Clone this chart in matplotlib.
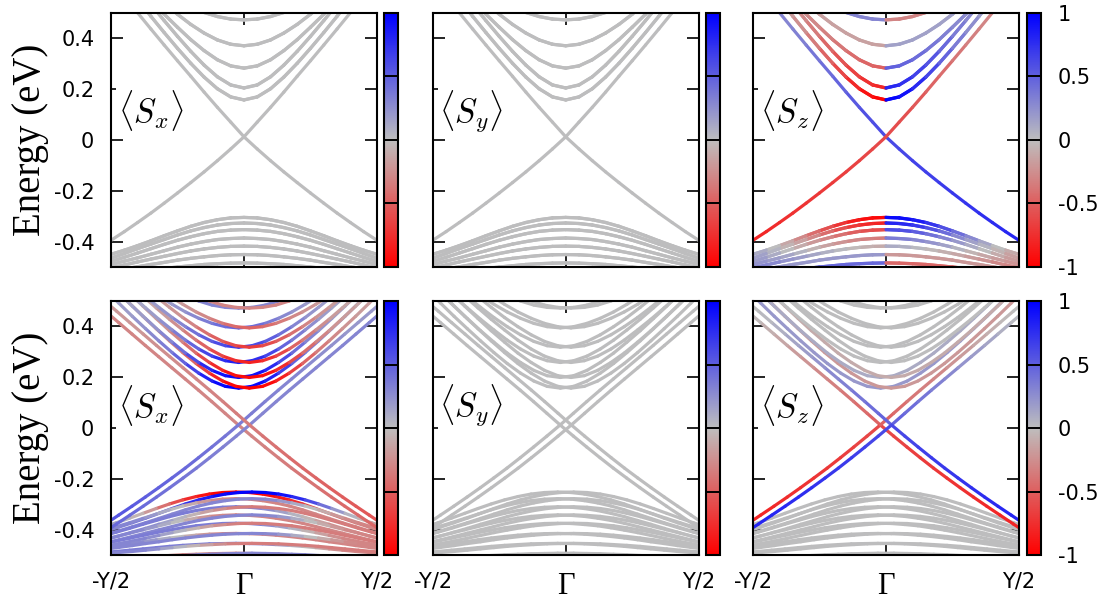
import numpy as np
import matplotlib
matplotlib.use('Agg')
import matplotlib.pyplot as plt
from matplotlib.collections import LineCollection
from matplotlib.colors import LinearSegmentedColormap, Normalize
from matplotlib.cm import ScalarMappable

plt.rcParams['mathtext.fontset'] = 'cm'
plt.rcParams['font.family'] = 'DejaVu Sans'

# k measured from Gamma outwards (Y/2 = 0.5); each band is given on this half grid
k_half = np.array([0, .05, .1, .15, .2, .25, .3, .35, .4, .45, .5, .55])

# ---- upper row (no splitting) : energies in eV ----
top_dirac_up = [.012, .07, .128, .188, .25, .311, .373, .436, .50, .565, .63, .695]
top_dirac_dn = [.012, -.036, -.082, -.126, -.168, -.209, -.249, -.288, -.325, -.361, -.395, -.428]
top_cond = [
    [.157, .169, .201, .247, .301, .360, .422, .486, .552, .618, .685, .753],
    [.204, .216, .248, .294, .348, .407, .469, .533, .599, .665, .732, .80],
    [.282, .291, .315, .351, .394, .443, .494, .547, .602, .658, .714, .772],
    [.370, .376, .393, .420, .454, .494, .539, .586, .636, .688, .741, .795],
    [.472, .475, .485, .501, .524, .553, .589, .63, .68, .73, .78, .83],
]
top_val = [
    [-.305, -.307, -.314, -.325, -.34, -.358, -.377, -.397, -.416, -.434, -.45, -.465],
    [-.327, -.329, -.335, -.345, -.358, -.374, -.392, -.41, -.428, -.447, -.465, -.482],
    [-.353, -.355, -.36, -.369, -.381, -.395, -.411, -.428, -.445, -.462, -.478, -.494],
    [-.386, -.388, -.392, -.4, -.41, -.422, -.436, -.45, -.464, -.477, -.49, -.503],
    [-.418, -.419, -.423, -.429, -.437, -.447, -.458, -.469, -.48, -.492, -.503, -.514],
    [-.451, -.452, -.455, -.46, -.466, -.473, -.482, -.49, -.499, -.508, -.516, -.525],
    [-.484, -.485, -.487, -.49, -.495, -.5, -.506, -.512, -.518, -.524, -.53, -.536],
]
# <Sz> of the falling Dirac line: upper branch (k<0) and lower branch (k>0)
top_dirac_sz_up = [.6, .6, .55, .5, .45, .4, .35, .3, .3, .25, .25, .25]
top_dirac_sz_dn = [.6, .62, .64, .66, .68, .7, .72, .74, .76, .78, .8, .8]
# <Sz> on the k>0 side (k<0 side has opposite sign)
top_cond_sz = [
    [1, .95, .85, .7, .55, .4, .3, .2, .15, .1, .1, .1],
    [.8, .78, .7, .6, .5, .4, .3, .25, .2, .15, .1, .1],
    [.5, .48, .45, .4, .35, .3, .25, .2, .15, .1, .1, .1],
    .15,
    -.3,
]
top_val_sz = [
    [.95, .95, .9, .8, .65, .5, .35, .2, .05, -.05, -.15, -.2],
    [.8, .8, .75, .65, .5, .35, .2, .1, 0, -.1, -.2, -.25],
    [.6, .6, .55, .45, .35, .25, .15, .05, -.05, -.15, -.2, -.25],
    [.35, .35, .3, .25, .2, .1, 0, -.1, -.15, -.2, -.25, -.3],
    [.1, .1, .05, 0, -.05, -.1, -.15, -.2, -.25, -.3, -.3, -.3],
    -.2,
    -.45,
]

# ---- lower row (bands split into pairs shifted by +-dk) ----
bot_dirac_up = [.012, .058, .104, .149, .193, .237, .281, .325, .37, .415, .46, .505]
bot_dirac_dn = [.012, -.032, -.075, -.117, -.158, -.197, -.235, -.272, -.308, -.343, -.378, -.412]
bot_cond = [
    [.157, .164, .185, .216, .254, .297, .343, .391, .440, .491, .542, .594],
    [.199, .206, .227, .258, .295, .338, .383, .431, .480, .530, .581, .633],
    [.258, .265, .283, .311, .346, .386, .428, .473, .519, .566, .614, .663],
    [.318, .324, .341, .367, .399, .435, .475, .517, .560, .605, .65, .696],
    [.394, .399, .412, .432, .457, .487, .52, .555, .591, .629, .667, .706],
    [.472, .475, .484, .50, .522, .55, .584, .624, .67, .72, .77, .82],
]
bot_val = [
    [-.252, -.254, -.26, -.27, -.283, -.299, -.317, -.336, -.355, -.373, -.39, -.406],
    [-.278, -.28, -.286, -.295, -.307, -.322, -.339, -.356, -.373, -.389, -.405, -.42],
    [-.31, -.312, -.317, -.325, -.336, -.349, -.364, -.379, -.395, -.41, -.425, -.439],
    [-.342, -.344, -.348, -.355, -.364, -.375, -.388, -.401, -.414, -.427, -.44, -.452],
    [-.375, -.376, -.38, -.385, -.393, -.402, -.412, -.423, -.434, -.445, -.455, -.465],
    [-.415, -.416, -.418, -.422, -.427, -.433, -.44, -.448, -.455, -.463, -.47, -.477],
    [-.454, -.455, -.456, -.459, -.462, -.466, -.471, -.476, -.481, -.486, -.49, -.495],
    [-.493, -.494, -.495, -.497, -.499, -.502, -.505, -.509, -.512, -.516, -.52, -.524],
]
bot_dirac_shift = 0.021
bot_cond_shift = 0.02
bot_val_shift = 0.03

# spin of the branch shifted to -dk (left side values, right side values)
bot_fall_sx = (-.3, [-.3, -.3, -.32, -.34, -.36, -.38, -.4, -.42, -.44, -.45, -.45, -.45])
bot_rise_sx = ([.35, .37, .4, .42, .44, .46, .48, .5, .52, .55, .55, .55],
               [.35, .35, .33, .3, .3, .28, .26, .25, .22, .2, .2, .2])
bot_fall_sz = ([-.5, -.45, -.4, -.35, -.3, -.25, -.2, -.15, -.1, -.05, 0, 0],
               [-.6, -.62, -.65, -.68, -.7, -.72, -.74, -.76, -.78, -.8, -.8, -.8])
bot_rise_sz = (bot_fall_sz[1], bot_fall_sz[0])
bot_cond_sx = [
    [1, 1, .9, .75, .55, .4, .3, .25, .2, .15, .15, .15],
    [.95, .95, .85, .7, .5, .35, .25, .2, .15, .1, .1, .1],
    [.85, .8, .7, .55, .4, .3, .2, .15, .1, .1, .1, .1],
    [.7, .65, .55, .45, .35, .25, .2, .15, .1, .1, .1, .1],
    [.5, .45, .4, .3, .25, .2, .15, .1, .1, .1, .1, .1],
    .3,
]
bot_cond_sz = [.2, .1, 0, 0, 0, 0]
bot_val_sx_left = [
    [-1, -1, -.95, -.85, -.7, -.5, -.3, -.1, 0, .1, .2, .25],
    [-.3, -.3, -.25, -.15, -.05, .05, .15, .25, .3, .3, .3, .3],
    .35,
    [-.3, -.3, -.25, -.15, -.05, .05, .15, .25, .3, .3, .3, .3],
    .35,
    [-.3, -.3, -.25, -.15, -.05, .05, .15, .25, .3, .3, .3, .3],
    .35,
    -.3,
]
bot_val_sx_right = [
    [-1, -1, -.95, -.9, -.8, -.7, -.6, -.5, -.4, -.35, -.3, -.3],
    -.3,
    [.35, .35, .3, .2, .1, 0, -.1, -.2, -.3, -.3, -.3, -.3],
    -.3,
    [.35, .35, .3, .2, .1, 0, -.1, -.2, -.3, -.3, -.3, -.3],
    -.3,
    [.35, .35, .3, .2, .1, 0, -.1, -.2, -.3, -.3, -.3, -.3],
    -.3,
]

labels = [r'$\langle S_x\rangle$', r'$\langle S_y\rangle$', r'$\langle S_z\rangle$']

cmap = LinearSegmentedColormap.from_list('spin', ['#ff0000', '#bebebe', '#0000ff'])
norm = Normalize(-1, 1)


def arr(v):
    return np.broadcast_to(np.asarray(v, float), k_half.shape)


def band(ax, eL, eR, sL, sR, dk):
    for side, e, s in ((-1, eL, sL), (1, eR, sR)):
        pts = np.column_stack([side * k_half + dk, arr(e)])
        segs = np.stack([pts[:-1], pts[1:]], axis=1)
        s = arr(s)
        lc = LineCollection(segs, cmap=cmap, norm=norm, linewidths=2.3)
        lc.set_capstyle('round')
        lc.set_array((s[:-1] + s[1:]) / 2)
        ax.add_collection(lc)


def pair(ax, eL, eR, sL, sR, dk):
    # branch at -dk and its time-reversed partner at +dk
    band(ax, eL, eR, sL, sR, -dk)
    band(ax, eR, eL, -arr(sR), -arr(sL), dk)


def top_panel(ax, comp):
    on = comp == 'z'
    for e, s in zip(top_val + top_cond, top_val_sz + top_cond_sz):
        s = arr(s) if on else arr(0)
        pair(ax, e, e, -s, s, 0)
    su = top_dirac_sz_up if on else 0
    sd = top_dirac_sz_dn if on else 0
    pair(ax, top_dirac_up, top_dirac_dn, su, sd, 0)


def bottom_panel(ax, comp):
    for e, sl, sr in zip(bot_val, bot_val_sx_left, bot_val_sx_right):
        if comp != 'x':
            sl, sr = 0, 0
        pair(ax, e, e, sl, sr, bot_val_shift)
    for e, sx, sz in zip(bot_cond, bot_cond_sx, bot_cond_sz):
        s = {'x': sx, 'y': 0, 'z': sz}[comp]
        pair(ax, e, e, s, s, bot_cond_shift)
    fall = {'x': bot_fall_sx, 'y': (0, 0), 'z': bot_fall_sz}[comp]
    rise = {'x': bot_rise_sx, 'y': (0, 0), 'z': bot_rise_sz}[comp]
    pair(ax, bot_dirac_up, bot_dirac_dn, fall[0], fall[1], bot_dirac_shift)
    pair(ax, bot_dirac_dn, bot_dirac_up, rise[0], rise[1], bot_dirac_shift)


fig = plt.figure(figsize=(11, 6), dpi=100)
lefts = [0.1009, 0.3934, 0.6845]
cb_lefts = [0.3491, 0.6415, 0.9336]
rows = [(0.555, 0.4238, 0.114, 0.767), (0.075, 0.4233, 0.09, 0.287)]
comps = ['x', 'y', 'z']

for r, (bottom, height, lab_y, mid) in enumerate(rows):
    fig.text(0.028, mid, 'Energy (eV)', rotation=90, ha='center', va='center',
             fontsize=28, family='Liberation Serif')
    for c in range(3):
        ax = fig.add_axes([lefts[c], bottom, 0.2418, height])
        if r == 0:
            top_panel(ax, comps[c])
        else:
            bottom_panel(ax, comps[c])
        ax.set_xlim(-0.5, 0.5)
        ax.set_ylim(-0.5, 0.5)
        ax.set_yticks([-0.4, -0.2, 0, 0.2, 0.4])
        ax.set_yticklabels(['-0.4', '-0.2', '0', '0.2', '0.4'])
        ax.set_xticks([-0.5, 0, 0.5])
        ax.tick_params(direction='in', length=8.5, width=1.2, top=True, right=True,
                       labelsize=15, pad=12)
        ax.tick_params(axis='y', labelleft=(c == 0))
        if r == 1:
            ax.set_xticklabels(['-Y/2', 'Γ', 'Y/2'])
            g = ax.get_xticklabels()[1]
            g.set_fontfamily('Liberation Serif')
            g.set_fontsize(22)
        else:
            ax.set_xticklabels([])
        for sp in ax.spines.values():
            sp.set_linewidth(1.5)
        ax.text(-0.475, lab_y, labels[c], fontsize=24, ha='left', va='center',
                bbox=dict(facecolor='white', edgecolor='none', pad=1))

        cax = fig.add_axes([cb_lefts[c], bottom, 0.0127, height])
        cb = fig.colorbar(ScalarMappable(norm=norm, cmap=cmap), cax=cax)
        cb.outline.set_linewidth(1.5)
        cb.set_ticks([-1, -0.5, 0, 0.5, 1])
        cax.tick_params(axis='y', direction='in', length=10, width=1.2, left=True,
                        right=True, labelleft=False, labelright=(c == 2),
                        labelsize=15, pad=12)
        if c == 2:
            cb.set_ticklabels(['-1', '-0.5', '0', '0.5', '1'])
            for t in cax.get_yticklabels():
                t.set_ha('left')

fig.savefig('out.png', dpi=100)
